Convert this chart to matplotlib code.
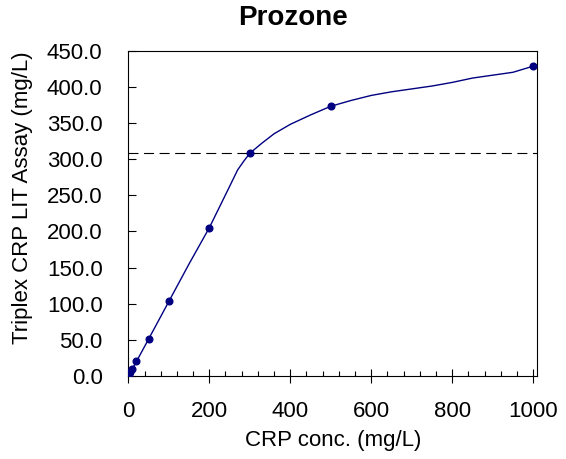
import matplotlib
matplotlib.use("Agg")
import matplotlib.pyplot as plt
from matplotlib.ticker import MultipleLocator, FormatStrFormatter

plt.rcParams['font.family'] = ['Liberation Sans', 'DejaVu Sans']

# measured points (CRP conc. vs assay result)
crp_conc = [0, 2, 5, 10, 20, 50, 100, 200, 300, 500, 1000]
assay_pts = [0, 2.1, 5, 10.2, 20.5, 51, 103.5, 204.5, 308, 373, 428.5]

# response curve
curve_x = [0, 10, 20, 50, 100, 150, 200, 250, 270, 285, 300, 330, 360, 400,
           450, 500, 550, 600, 650, 700, 750, 800, 850, 900, 950, 1000]
curve_y = [0, 10, 20, 51, 103, 155, 205, 262, 285, 297, 308, 322, 335, 348,
           361, 373, 381, 388, 393, 397, 401, 406, 412, 416, 420, 428.5]

prozone_level = 308
x_ticks = [0, 200, 400, 600, 800, 1000]
y_ticks = [0, 50, 100, 150, 200, 250, 300, 350, 400, 450]

navy = '#000080'

fig = plt.figure(figsize=(5.66, 4.59), dpi=100)
ax = fig.add_axes([0.2267, 0.1808, 0.7226, 0.709])

ax.plot(curve_x, curve_y, color=navy, linewidth=1.0, zorder=2)
ax.plot(crp_conc, assay_pts, linestyle='none', marker='o', markersize=4.8,
        color=navy, zorder=3)
ax.axhline(prozone_level, color='black', linewidth=0.8,
           dashes=(9, 5), zorder=1)

ax.set_xlim(0, 1010)
ax.set_ylim(0, 450)
ax.set_xticks(x_ticks)
ax.set_yticks(y_ticks)
ax.xaxis.set_minor_locator(MultipleLocator(40))
ax.yaxis.set_major_formatter(FormatStrFormatter('%.1f'))

for s in ax.spines.values():
    s.set_linewidth(0.8)

ax.tick_params(axis='x', which='major', direction='inout', length=10,
               width=0.8, pad=13, labelsize=16)
ax.tick_params(axis='x', which='minor', direction='in', length=3.6, width=0.8)
ax.tick_params(axis='y', which='major', direction='in', length=5.8,
               width=0.8, pad=18.5, labelsize=16)

ax.set_xlabel('CRP conc. (mg/L)', fontsize=16)
ax.xaxis.set_label_coords(0.5, -0.167)
ax.set_ylabel('Triplex CRP LIT Assay (mg/L)', fontsize=16)
ax.yaxis.set_label_coords(-0.233, 0.548)

fig.text(0.5177, 0.961, 'Prozone', fontsize=20, fontweight='bold',
         ha='center', va='center')

fig.savefig('out.png', dpi=100)
